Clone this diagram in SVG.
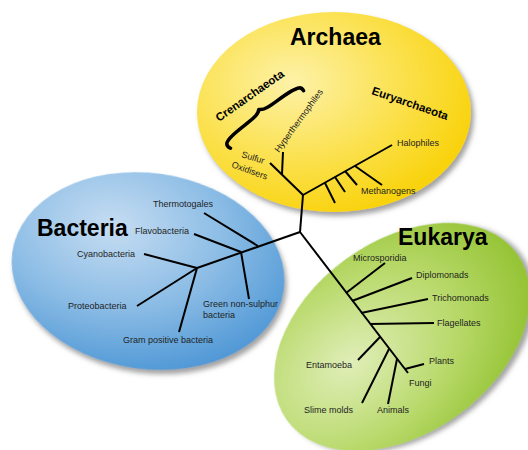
<svg xmlns="http://www.w3.org/2000/svg" width="528" height="450" viewBox="0 0 528 450">
  <defs>
    <radialGradient id="gY" cx="0.35" cy="0.35" r="0.75">
      <stop offset="0" stop-color="#fdf2a8"/>
      <stop offset="0.55" stop-color="#fbe04a"/>
      <stop offset="1" stop-color="#f8d000"/>
    </radialGradient>
    <radialGradient id="gB" cx="0.35" cy="0.3" r="0.75">
      <stop offset="0" stop-color="#c6ddf2"/>
      <stop offset="0.55" stop-color="#8bbce5"/>
      <stop offset="1" stop-color="#5098d6"/>
    </radialGradient>
    <radialGradient id="gG" cx="0.3" cy="0.45" r="0.75">
      <stop offset="0" stop-color="#e0eeb8"/>
      <stop offset="0.55" stop-color="#b8d96a"/>
      <stop offset="1" stop-color="#8fc02c"/>
    </radialGradient>
    <filter id="sh" x="-10%" y="-10%" width="125%" height="125%">
      <feDropShadow dx="3" dy="4" stdDeviation="2.5" flood-color="#555" flood-opacity="0.55"/>
    </filter>
  </defs>
  <style>
    .t { font-family: "Liberation Sans", Arial, sans-serif; font-size: 9px; fill: #1e1e1e; }
    .big { font-family: "Liberation Sans", Arial, sans-serif; font-size: 23px; font-weight: bold; fill: #000; }
    .sub { font-family: "Liberation Sans", Arial, sans-serif; font-size: 11.5px; font-weight: bold; fill: #000; }
    .ln { stroke: #000; stroke-width: 2; fill: none; stroke-linecap: butt; stroke-linejoin: miter; }
  </style>
  <rect width="528" height="450" fill="#fff"/>

  <g id="archaea">
    <ellipse cx="334" cy="112" rx="137" ry="100" fill="url(#gY)" filter="url(#sh)"/>
  </g>
  <g id="bacteria">
    <ellipse cx="148" cy="271" rx="137" ry="98" transform="rotate(8 148 271)" fill="url(#gB)" filter="url(#sh)"/>
  </g>
  <g id="eukarya">
    <ellipse cx="402" cy="337" rx="142" ry="96" transform="rotate(-36 402 337)" fill="url(#gG)" filter="url(#sh)"/>
  </g>

  <g id="connectors" class="ln">
    <!-- root -->
    <path d="M300,232 L303,195"/>
    <path d="M300,232 L197,268"/>
    <path d="M300,232 L408,373"/>
    <!-- Archaea -->
    <path d="M303,195 L270,163"/>
    <path d="M282,174 L283,152"/>
    <path d="M303,195 L392,145"/>
    <path d="M325,183 L335,203"/>
    <path d="M335,177 L345,192"/>
    <path d="M345,171 L357,185"/>
    <path d="M355,166 L382,185"/>
    <!-- Bacteria -->
    <path d="M258,246 L204,213"/>
    <path d="M241,252 L194,234"/>
    <path d="M241,252 L249,299"/>
    <path d="M197,268 L144,254"/>
    <path d="M197,268 L137,306"/>
    <path d="M197,268 L179,332"/>
    <!-- Eukarya -->
    <path d="M346,293 L385,263"/>
    <path d="M352,301 L412,278"/>
    <path d="M361,313 L428,299"/>
    <path d="M370,324 L434,323"/>
    <path d="M380,337 L358,360"/>
    <path d="M389,349 L362,403"/>
    <path d="M397,359 L388,404"/>
    <path d="M405,369 L424,364"/>
  </g>

  <!-- brace -->
  <g id="crenarchaeota-brace" transform="translate(263,115) rotate(-37)">
    <path d="M-46,7 C-49,1 -45,-1 -37,-2 C-20,-4 -5,-1 0,-7 C5,-1 20,-4 37,-2 C44,-1 48,0 47,5" fill="none" stroke="#000" stroke-width="3.5" stroke-linecap="round" stroke-linejoin="round"/>
  </g>

  <g id="archaea-labels">
    <text class="big" x="290" y="45">Archaea</text>
    <text class="sub" font-size="12" transform="translate(219,122) rotate(-35)">Crenarchaeota</text>
    <text class="sub" transform="translate(371,94) rotate(19)">Euryarchaeota</text>
    <g id="hyperthermophiles"><text class="t" font-size="9.3" transform="translate(279,153) rotate(-54)">Hyperthermophiles</text></g>
    <g id="sulfur-oxidisers">
      <text class="t" transform="translate(241,157) rotate(17)">Sulfur</text>
      <text class="t" transform="translate(231,167) rotate(20)">Oxidisers</text>
    </g>
    <g id="halophiles"><text class="t" x="397" y="146">Halophiles</text></g>
    <g id="methanogens"><text class="t" x="361" y="194">Methanogens</text></g>
  </g>

  <g id="bacteria-labels">
    <text class="big" x="37" y="236">Bacteria</text>
    <g id="thermotogales"><text class="t" x="153" y="207">Thermotogales</text></g>
    <g id="flavobacteria"><text class="t" x="135" y="234">Flavobacteria</text></g>
    <g id="cyanobacteria"><text class="t" x="77" y="257">Cyanobacteria</text></g>
    <g id="proteobacteria"><text class="t" x="68" y="309">Proteobacteria</text></g>
    <g id="green-non-sulphur"><text class="t" x="203" y="307">Green non-sulphur</text><text class="t" x="203" y="318">bacteria</text></g>
    <g id="gram-positive"><text class="t" x="123" y="343">Gram positive bacteria</text></g>
  </g>

  <g id="eukarya-labels">
    <text class="big" x="398" y="245">Eukarya</text>
    <g id="microsporidia"><text class="t" x="353" y="261">Microsporidia</text></g>
    <g id="diplomonads"><text class="t" x="416" y="278">Diplomonads</text></g>
    <g id="trichomonads"><text class="t" x="432" y="301">Trichomonads</text></g>
    <g id="flagellates"><text class="t" x="437" y="326">Flagellates</text></g>
    <g id="plants"><text class="t" x="429" y="364">Plants</text></g>
    <g id="fungi"><text class="t" x="409" y="386">Fungi</text></g>
    <g id="entamoeba"><text class="t" x="306" y="368">Entamoeba</text></g>
    <g id="slime-molds"><text class="t" x="304" y="413">Slime molds</text></g>
    <g id="animals"><text class="t" x="377" y="413">Animals</text></g>
  </g>
</svg>
